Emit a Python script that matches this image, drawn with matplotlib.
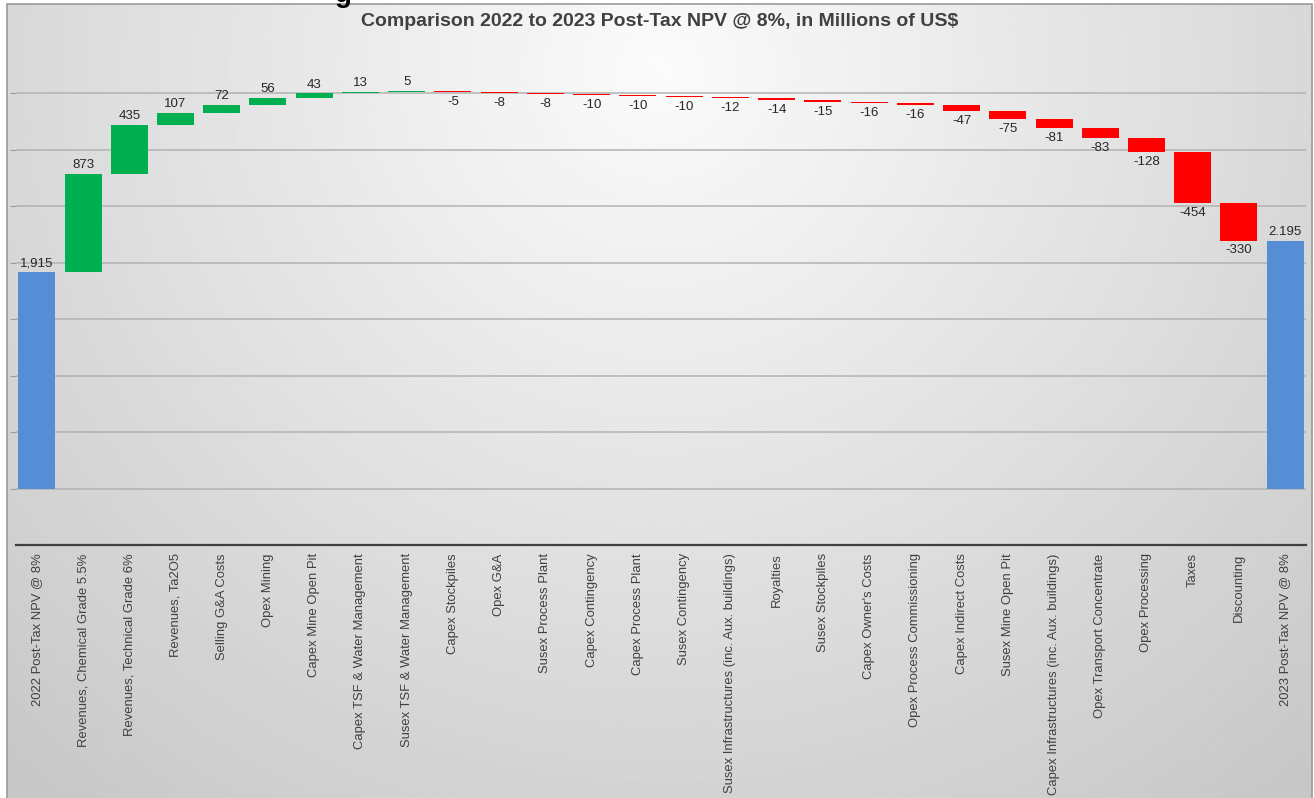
import numpy as np
import matplotlib.pyplot as plt
from matplotlib.patches import Rectangle

plt.rcParams['font.family'] = ['Liberation Sans', 'DejaVu Sans']

# Datos del gráfico de cascada
categorias = ["2022 Post-Tax NPV @ 8%", "Revenues, Chemical Grade 5.5%", "Revenues, Technical Grade 6%",
              "Revenues, Ta2O5", "Selling G&A Costs", "Opex Mining", "Capex Mine Open Pit",
              "Capex TSF & Water Management", "Susex TSF & Water Management", "Capex Stockpiles",
              "Opex G&A", "Susex Process Plant", "Capex Contingency", "Capex Process Plant",
              "Susex Contingency", "Susex Infrastructures (inc. Aux. buildings)", "Royalties",
              "Susex Stockpiles", "Capex Owner's Costs", "Opex Process Commissioning",
              "Capex Indirect Costs", "Susex Mine Open Pit", "Capex Infrastructures (inc. Aux. buildings)",
              "Opex Transport Concentrate", "Opex Processing", "Taxes", "Discounting",
              "2023 Post-Tax NPV @ 8%"]
inicio = 1915
fin = 2195
etiqueta_inicio = "1,915"
etiqueta_fin = "2.195"
deltas = [873, 435, 107, 72, 56, 43, 13, 5, -5, -8, -8, -10, -10, -10, -12, -14, -15,
          -16, -16, -47, -75, -81, -83, -128, -454, -330]

azul = "#558ed5"
verde = "#00b050"
rojo = "#ff0000"

W, H = 1314, 798
fig = plt.figure(figsize=(W / 100, H / 100), dpi=100)

# Fondo con degradado gris
bg = fig.add_axes([0, 0, 1, 1])
bg.set_xlim(0, 1)
bg.set_ylim(0, 1)
bg.axis("off")
xx, yy = np.meshgrid(np.linspace(0, 1, 400), np.linspace(0, 1, 300))
r = np.sqrt(((xx - 0.5) / 0.62) ** 2 + ((yy - 0.92) / 1.0) ** 2)
g = np.clip(0.985 - 0.17 * r, 0.78, 1.0)
x0, y1 = 7 / W, 1 - 4 / H
bg.imshow(g, cmap="gray", vmin=0, vmax=1, origin="lower",
          extent=[x0, 1 - 2 / W, 0, y1], aspect="auto", zorder=0)
bg.add_patch(Rectangle((x0, -0.01), 1 - 2 / W - x0, y1 + 0.01, fill=False,
                       edgecolor="#9a9a9a", lw=1.2, zorder=1))
fig.text(343 / W, 1 - 2 / H, "g", fontsize=20, fontweight="bold", color="black",
         ha="center", va="baseline")

ax = fig.add_axes([16 / W, 1 - 545 / H, (1306 - 16) / W, (545 - 37) / H])
ax.patch.set_alpha(0)

n = len(categorias)
x = np.arange(n)
ancho = 0.8

# Barras
ax.bar(x[0], inicio, width=ancho, color=azul, zorder=3)
ax.text(x[0], inicio + 25, etiqueta_inicio, ha="center", va="bottom", fontsize=9.5, color="#262626", zorder=4)
acum = inicio
for i, d in enumerate(deltas, start=1):
    col = verde if d > 0 else rojo
    ax.bar(x[i], d, bottom=acum, width=ancho, color=col, zorder=3)
    if d > 0:
        ax.text(x[i], acum + d + 25, str(d), ha="center", va="bottom", fontsize=9.5, color="#262626", zorder=4)
    else:
        ax.text(x[i], acum + d - 35, str(d), ha="center", va="top", fontsize=9.5, color="#262626", zorder=4)
    acum += d
ax.bar(x[-1], fin, width=ancho, color=azul, zorder=3)
ax.text(x[-1], fin + 25, etiqueta_fin, ha="center", va="bottom", fontsize=9.5, color="#262626", zorder=4)

ax.set_xlim(-0.45, n - 0.55)
ax.set_ylim(-500, 4000)
ax.set_yticks(np.arange(0, 4000, 500))
ax.yaxis.grid(True, color="#b2b2b2", lw=1.1, zorder=1)
ax.tick_params(axis="y", length=4, color="#9a9a9a", labelleft=False)
ax.set_xticks(x)
ax.set_xticklabels(categorias, rotation=90, fontsize=9.4, color="#404040", va="top", ha="center")
ax.tick_params(axis="x", length=0, pad=6)
for s in ["top", "right", "left"]:
    ax.spines[s].set_visible(False)
ax.spines["bottom"].set_color("#404040")
ax.spines["bottom"].set_linewidth(1.6)

fig.text(660 / W, 1 - 21 / H, "Comparison 2022 to 2023 Post-Tax NPV @ 8%, in Millions of US$",
         ha="center", va="center", fontsize=14, fontweight="bold", color="#404040")

fig.savefig("out.png", dpi=100)
